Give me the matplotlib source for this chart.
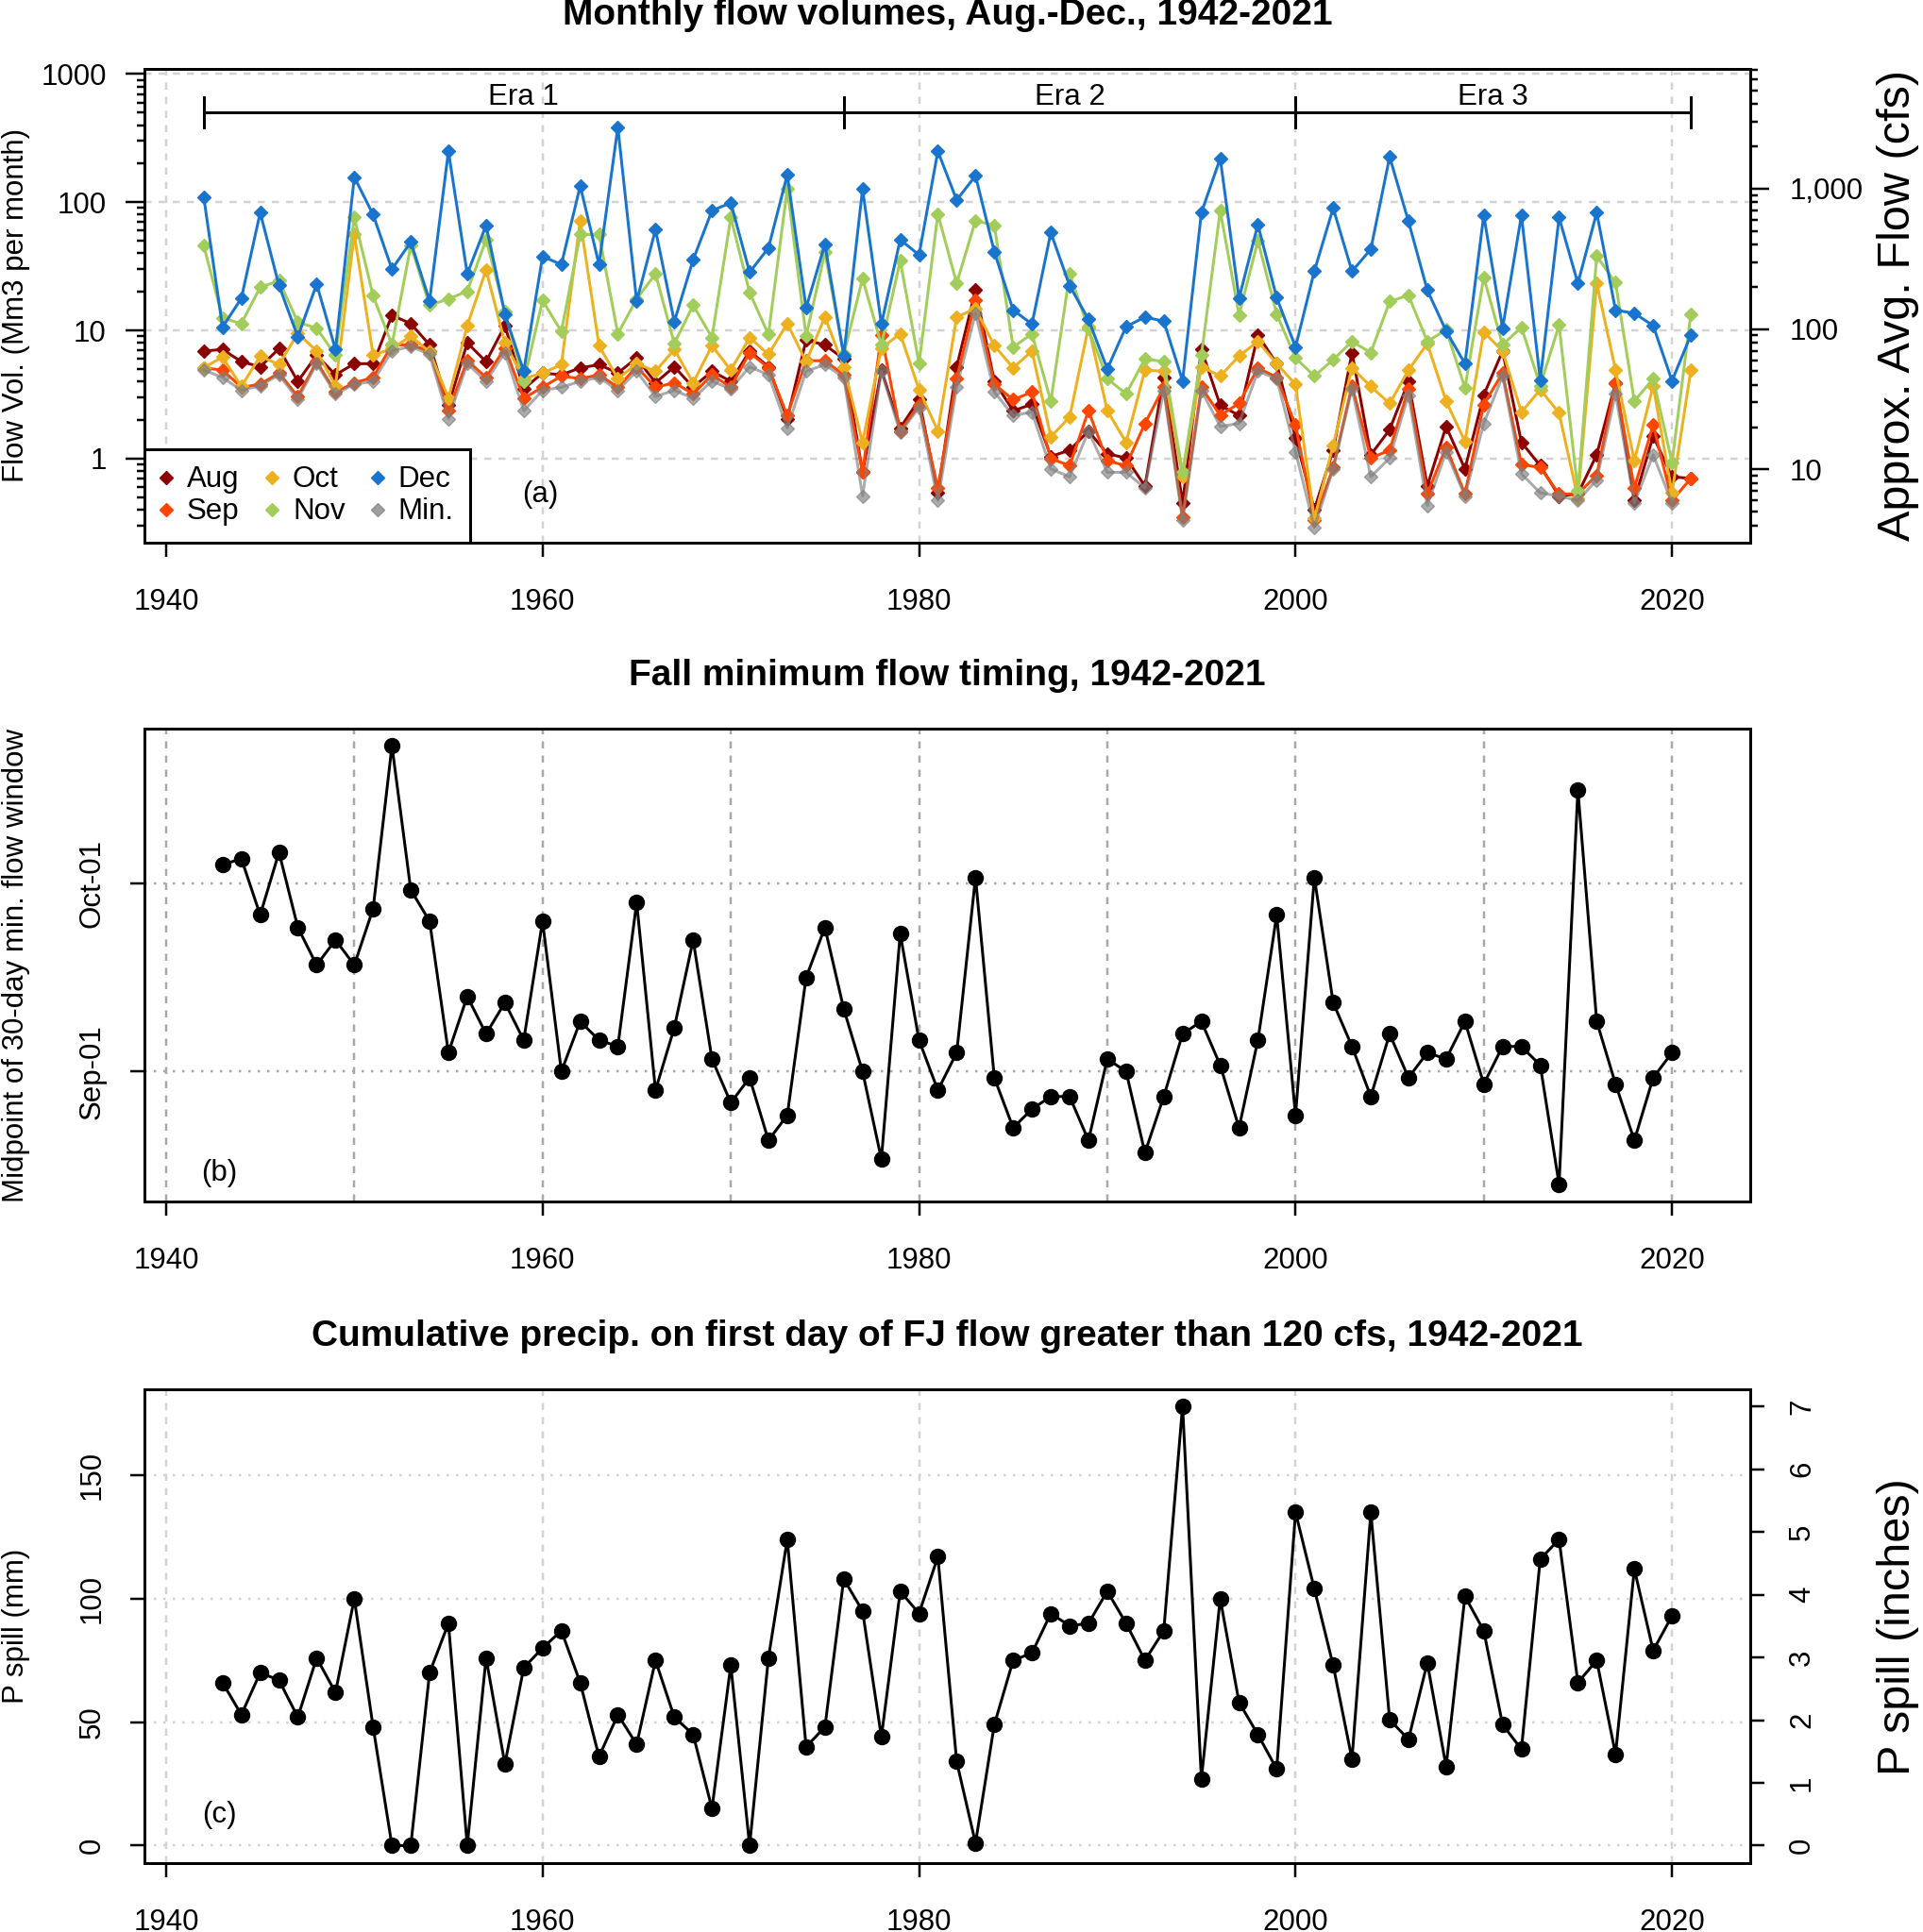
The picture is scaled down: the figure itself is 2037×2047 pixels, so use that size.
import numpy as np
import matplotlib
matplotlib.use("Agg")
import matplotlib.pyplot as plt
from matplotlib.ticker import FixedLocator, NullFormatter, LogLocator, FixedFormatter
from matplotlib.lines import Line2D

plt.rcParams['font.family'] = ['Liberation Sans', 'DejaVu Sans']

# ---------------- data ----------------
years_a = list(range(1942, 2022))
aug = [6.9, 7.1, 5.7, 5.2, 7.2, 4.0, 6.4, 4.5, 5.5, 5.5, 13.1, 11.3, 7.7, 2.6, 8.0, 5.7, 10.9, 3.5, 4.65, 4.5,
       5.1, 5.4, 4.65, 6.1, 3.9, 5.2, 3.6, 4.8, 4.0, 6.9, 5.2, 2.05, 8.4, 7.7, 6.0, 0.78, 4.9, 1.73, 2.88, 0.54,
       5.2, 20.6, 4.0, 2.36, 2.65, 1.04, 1.16, 1.64, 1.09, 1.01, 0.61, 4.3, 0.45, 7.1, 2.6, 2.17, 9.2, 5.5, 1.46, 0.40,
       1.16, 6.7, 1.07, 1.68, 4.0, 0.61, 1.78, 0.83, 3.13, 6.9, 1.34, 0.88, 0.51, 0.53, 1.07, 3.9, 0.47, 1.5, 0.72, 0.70]
sep = [5.1, 4.9, 3.6, 3.8, 4.65, 3.05, 5.7, 3.3, 3.9, 4.3, 7.7, 7.7, 6.9, 2.36, 5.8, 4.3, 7.3, 2.96, 3.6, 4.4,
       4.2, 4.5, 3.6, 5.2, 3.6, 3.9, 3.2, 4.5, 3.6, 6.7, 5.1, 2.17, 5.8, 5.8, 4.5, 0.78, 9.2, 1.64, 2.6, 0.59,
       4.2, 17.1, 3.8, 2.88, 3.3, 1.0, 0.88, 2.36, 0.96, 0.88, 1.88, 3.6, 0.35, 3.6, 2.17, 2.7, 5.1, 4.3, 1.83, 0.33,
       0.85, 3.7, 1.01, 1.16, 3.5, 0.53, 1.23, 0.53, 2.64, 4.65, 0.90, 0.85, 0.53, 0.53, 0.74, 3.9, 0.59, 1.83, 0.47, 0.70]
oct_ = [5.1, 6.2, 3.65, 6.3, 5.4, 9.5, 6.9, 3.7, 56, 6.4, 7.2, 9.0, 6.8, 2.96, 10.9, 29.6, 8.0, 4.2, 4.65, 5.4,
        72, 7.6, 4.2, 5.5, 4.8, 7.1, 3.9, 7.6, 4.9, 8.8, 6.5, 11.3, 5.7, 12.7, 5.2, 1.34, 7.3, 9.4, 3.45, 1.64,
        12.7, 14.8, 7.6, 5.1, 6.9, 1.48, 2.1, 10.7, 2.36, 1.34, 4.9, 4.8, 0.72, 5.2, 4.4, 6.3, 8.2, 5.5, 3.78, 0.34,
        1.27, 5.1, 3.65, 2.69, 4.9, 7.9, 2.8, 1.36, 9.7, 6.9, 2.3, 3.45, 2.27, 0.49, 23.3, 4.9, 0.96, 3.7, 0.54, 4.9]
nov = [46, 12.5, 11.3, 21.7, 24.4, 11.6, 10.4, 6.4, 76, 18.6, 7.7, 46, 15.7, 17.6, 20.2, 51, 14, 4.0, 17.1, 9.8,
       56, 56, 9.4, 17.6, 27.6, 7.9, 15.7, 8.8, 76, 19.7, 9.3, 128, 9.0, 40.6, 6.5, 25.4, 7.7, 35, 5.5, 81,
       23.3, 72, 66, 7.4, 9.4, 2.8, 27.6, 10.3, 4.2, 3.2, 6.0, 5.7, 0.78, 6.4, 86, 13.2, 50, 13.4, 6.1, 4.4,
       5.9, 8.2, 6.7, 16.8, 18.8, 8.2, 10.1, 3.57, 26, 7.7, 10.6, 3.7, 11.0, 0.56, 38, 23.6, 2.8, 4.2, 0.93, 13.4]
dec = [110, 10.6, 17.8, 83, 22.4, 8.9, 23, 7.1, 157, 80, 30, 49, 17, 250, 27.6, 66, 13.4, 4.8, 37.7, 32.7,
       134, 32.7, 385, 16.9, 61, 11.7, 35.6, 86, 99, 28.4, 44, 164, 15, 47, 6.35, 127, 11.2, 51, 38.8, 250,
       104, 161, 41, 14.4, 11.2, 58, 22.3, 12.2, 5.0, 10.7, 12.7, 11.8, 4.04, 83, 220, 17.8, 67, 18, 7.4, 29,
       90, 28.9, 43, 226, 71, 20.6, 9.9, 5.5, 79, 10.4, 79, 4.1, 76, 23.3, 83, 14.4, 13.6, 10.9, 4.04, 9.2]
mins = [4.9, 4.3, 3.4, 3.7, 4.5, 2.9, 5.5, 3.2, 3.8, 4.0, 6.9, 7.5, 6.5, 2.05, 5.5, 4.0, 6.7, 2.36, 3.4, 3.6,
        4.0, 4.3, 3.4, 4.8, 3.05, 3.4, 2.96, 4.0, 3.5, 5.2, 4.5, 1.73, 4.8, 5.4, 4.3, 0.51, 4.8, 1.59, 2.5, 0.47,
        3.6, 13.6, 3.3, 2.17, 2.3, 0.83, 0.72, 1.64, 0.78, 0.78, 0.59, 3.4, 0.33, 3.4, 1.78, 1.88, 4.8, 4.2, 1.13, 0.29,
        0.83, 3.5, 0.72, 1.01, 3.13, 0.43, 1.13, 0.51, 1.88, 4.4, 0.76, 0.54, 0.51, 0.47, 0.68, 3.2, 0.45, 1.07, 0.45, np.nan]

era_bounds = [1942, 1976, 2000, 2021]
era_labels = ["Era 1", "Era 2", "Era 3"]

years_bc = list(range(1943, 2021))
# days after Sep-01 of the 30-day minimum-flow window midpoint
mid_days = [33, 34, 25, 35, 23, 17, 21, 17, 26, 52, 29, 24, 3, 12, 6, 11, 5, 24, 0, 8,
            5, 4, 27, -3, 7, 21, 2, -5, -1, -11, -7, 15, 23, 10, 0, -14, 22, 5, -3, 3,
            31, -1, -9, -6, -4, -4, -11, 2, 0, -13, -4, 6, 8, 1, -9, 5, 25, -7, 31, 11,
            4, -4, 6, -1, 3, 2, 8, -2, 4, 4, 1, -18, 45, 8, -2, -11, -1, 3]
pspill = [66, 53, 70, 67, 52, 76, 62, 100, 48, 0, 0, 70, 90, 0, 76, 33, 72, 80, 87, 66,
          36, 53, 41, 75, 52, 45, 15, 73, 0, 76, 124, 40, 48, 108, 95, 44, 103, 94, 117, 34,
          1, 49, 75, 78, 94, 89, 90, 103, 90, 75, 87, 178, 27, 100, 58, 45, 31, 135, 104, 73,
          35, 135, 51, 43, 74, 32, 101, 87, 49, 39, 116, 124, 66, 75, 37, 112, 79, 93]

b_ticks = [0, 30]
b_ticklabels = ["Sep-01", "Oct-01"]
x_ticks = [1940, 1960, 1980, 2000, 2020]

# ---------------- style ----------------
FS = 22.5
TFS = 28
BFS = 35
PX = 0.72  # points per pixel at dpi 100
grid_light = '#D3D3D3'
grid_dark = '#A9A9A9'

fig = plt.figure(figsize=(20.37, 20.47), dpi=100)
L, W, H = 0.0750, 0.8352, 0.2450
axA = fig.add_axes([L, 0.7193, W, H])
axB = fig.add_axes([L, 0.3780, W, H])
axC = fig.add_axes([L, 0.03566, W, H])

XLIM = (1938.84, 2024.16)

def base_style(ax):
    ax.set_xlim(*XLIM)
    for s in ax.spines.values():
        s.set_linewidth(3 * PX)
    ax.set_xticks(x_ticks)
    ax.set_xticklabels([str(x) for x in x_ticks])
    ax.tick_params(axis='x', direction='out', length=15 * PX, width=2.5 * PX,
                   labelsize=FS, pad=33 * PX)
    ax.set_axisbelow(True)

# ---------- panel a ----------
base_style(axA)
axA.set_yscale('log')
axA.set_ylim(0.222, 1096)
axA.yaxis.set_major_locator(FixedLocator([1, 10, 100, 1000]))
axA.yaxis.set_major_formatter(FixedFormatter(['1', '10', '100', '1000']))
axA.yaxis.set_minor_locator(LogLocator(base=10, subs=np.arange(2, 10)))
axA.yaxis.set_minor_formatter(NullFormatter())
axA.tick_params(axis='y', which='major', direction='out', length=20 * PX, width=2.5 * PX,
                labelsize=FS, pad=20 * PX)
axA.tick_params(axis='y', which='minor', direction='out', length=8 * PX, width=2.5 * PX)
for xg in x_ticks:
    axA.axvline(xg, color=grid_light, lw=2.5 * PX, ls=(0, (3, 3)), zorder=0)
for yg in [1, 10, 100, 1000]:
    axA.axhline(yg, color=grid_light, lw=2.5 * PX, ls=(0, (3, 3)), zorder=0)

series = [("Aug", '#8B0000', aug), ("Sep", '#FF4500', sep), ("Oct", '#EDB120', oct_),
          ("Nov", '#A2CD5A', nov), ("Dec", '#1874CD', dec)]
for name, col, vals in series:
    axA.plot(years_a, vals, color=col, lw=3 * PX, marker='D', ms=7, mec=col, zorder=3)
axA.plot(years_a, mins, color='#7F7F7F', alpha=0.65, lw=3 * PX, marker='D', ms=7, zorder=4)

trans = axA.get_xaxis_transform()
axA.plot([era_bounds[0], era_bounds[-1]], [0.9077, 0.9077], color='k', lw=3 * PX,
         transform=trans, clip_on=False, zorder=5)
for eb in era_bounds:
    axA.plot([eb, eb], [0.8764, 0.9396], color='k', lw=3 * PX, transform=trans, zorder=5)
for i, lab in enumerate(era_labels):
    xm = 0.5 * (era_bounds[i] + era_bounds[i + 1])
    axA.text(xm, 0.941, lab, transform=trans, ha='center', va='center', fontsize=FS)

handles = [Line2D([], [], ls='none', marker='D', color=c, ms=7) for _, c, _ in series]
handles.append(Line2D([], [], ls='none', marker='D', color='#7F7F7F', alpha=0.75, ms=7))
labels = [s[0] for s in series] + ["Min."]
leg = axA.legend(handles, labels, ncol=3, loc='lower left', bbox_to_anchor=(0, 0),
                 borderaxespad=0, frameon=True, fancybox=False, edgecolor='black',
                 framealpha=1, fontsize=FS, handlelength=0.4, handletextpad=0.5,
                 columnspacing=0.9, borderpad=0.55, labelspacing=0.13, handleheight=0.6)
leg.get_frame().set_linewidth(3 * PX)
leg.set_zorder(10)
axA.text(0.2464, 0.10, '(a)', transform=axA.transAxes, ha='center', va='center', fontsize=FS)

axA2 = axA.twinx()
axA2.set_yscale('log')
axA2.set_ylim(3.03, 7100)
axA2.yaxis.set_major_locator(FixedLocator([10, 100, 1000]))
axA2.yaxis.set_major_formatter(FixedFormatter(['10', '100', '1,000']))
axA2.yaxis.set_minor_locator(LogLocator(base=10, subs=np.arange(2, 10)))
axA2.yaxis.set_minor_formatter(NullFormatter())
axA2.tick_params(axis='y', which='major', direction='out', length=20 * PX, width=2.5 * PX,
                 labelsize=FS, pad=22 * PX)
axA2.tick_params(axis='y', which='minor', direction='out', length=8 * PX, width=2.5 * PX)
for s in axA2.spines.values():
    s.set_linewidth(3 * PX)

# ---------- panel b ----------
base_style(axB)
axB.set_ylim(-20.8, 54.8)
for xg in range(1940, 2030, 10):
    axB.axvline(xg, color=grid_dark, lw=2.5 * PX, ls=(0, (3, 3)), zorder=0)
for yg in b_ticks:
    axB.axhline(yg, color=grid_dark, lw=2.5 * PX, ls=(0, (1, 3)), zorder=0)
axB.plot(years_bc, mid_days, color='k', lw=3 * PX, marker='o', ms=11.5, zorder=3)
axB.set_yticks(b_ticks)
axB.set_yticklabels(b_ticklabels, rotation=90, va='center')
axB.tick_params(axis='y', direction='out', length=15 * PX, width=2.5 * PX, labelsize=FS, pad=25 * PX)
axB.text(0.0468, 0.06, '(b)', transform=axB.transAxes, ha='center', va='center', fontsize=FS)

# ---------- panel c ----------
base_style(axC)
CYL = (-7.1, 184.6)
axC.set_ylim(*CYL)
for xg in x_ticks:
    axC.axvline(xg, color=grid_light, lw=2.5 * PX, ls=(0, (3, 3)), zorder=0)
for yg in [0, 50, 100, 150]:
    axC.axhline(yg, color=grid_light, lw=2.5 * PX, ls=(0, (1, 3)), zorder=0)
axC.plot(years_bc, pspill, color='k', lw=3 * PX, marker='o', ms=11.5, zorder=3)
axC.set_yticks([0, 50, 100, 150])
axC.set_yticklabels(['0', '50', '100', '150'], rotation=90, va='center')
axC.tick_params(axis='y', direction='out', length=15 * PX, width=2.5 * PX, labelsize=FS, pad=25 * PX)
axC.text(0.0468, 0.101, '(c)', transform=axC.transAxes, ha='center', va='center', fontsize=FS)

axC2 = axC.twinx()
axC2.set_ylim(CYL[0] / 25.4, CYL[1] / 25.4)
axC2.set_yticks(list(range(0, 8)))
axC2.set_yticklabels([str(i) for i in range(0, 8)], rotation=90, va='center')
axC2.tick_params(axis='y', direction='out', length=15 * PX, width=2.5 * PX, labelsize=FS, pad=25 * PX)
for s in axC2.spines.values():
    s.set_linewidth(3 * PX)

# ---------- titles and axis labels ----------
xc = L + W / 2
fig.text(xc, 0.99233, "Monthly flow volumes, Aug.-Dec., 1942-2021", ha='center', va='center',
         fontsize=TFS, fontweight='bold')
fig.text(xc, 0.6504, "Fall minimum flow timing, 1942-2021", ha='center', va='center',
         fontsize=TFS, fontweight='bold')
fig.text(xc, 0.3084, "Cumulative precip. on first day of FJ flow greater than 120 cfs, 1942-2021",
         ha='center', va='center', fontsize=TFS, fontweight='bold')

fig.text(0.0084, 0.7193 + H / 2, "Flow Vol. (Mm3 per month)", rotation=90, ha='center', va='center', fontsize=FS)
fig.text(0.0084, 0.3780 + H / 2, "Midpoint of 30-day min. flow window", rotation=90, ha='center', va='center', fontsize=FS)
fig.text(0.0084, 0.03566 + H / 2, "P spill (mm)", rotation=90, ha='center', va='center', fontsize=FS)
fig.text(0.9868, 0.7193 + H / 2, "Approx. Avg. Flow (cfs)", rotation=90, ha='center', va='center', fontsize=BFS)
fig.text(0.9868, 0.03566 + H / 2, "P spill (inches)", rotation=90, ha='center', va='center', fontsize=BFS)

fig.savefig("out.png", dpi=100)
